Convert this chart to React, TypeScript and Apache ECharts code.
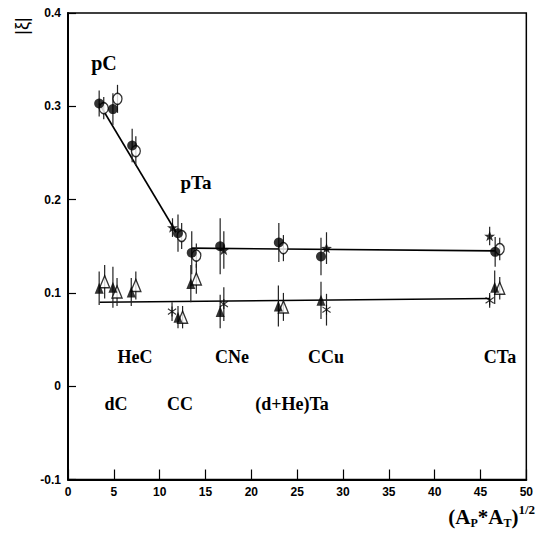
import React, { useEffect, useRef } from "react";
import * as echarts from "echarts";

// ---- data ----
const filledCircleX = [3.4, 4.9, 7.0, 12.0, 13.5, 16.6, 23.0, 27.6, 46.6];
const filledCircleY = [0.303, 0.297, 0.258, 0.164, 0.143, 0.15, 0.154, 0.139, 0.144];
const filledCircleErr = [0.014, 0.017, 0.018, 0.02, 0.023, 0.03, 0.021, 0.02, 0.016];

const openCircleX = [3.9, 5.4, 7.4, 12.4, 14.0, 23.5, 47.1];
const openCircleY = [0.298, 0.308, 0.252, 0.161, 0.14, 0.148, 0.147];
const openCircleErr = [0.012, 0.015, 0.016, 0.014, 0.013, 0.014, 0.012];

const starX = [11.4, 17.0, 28.2, 46.0];
const starY = [0.17, 0.146, 0.148, 0.161];
const starErr = [0.01, 0.02, 0.017, 0.01];

const filledTriX = [3.4, 4.9, 6.9, 12.0, 13.4, 16.6, 22.95, 27.6, 46.55];
const filledTriY = [0.105, 0.106, 0.101, 0.074, 0.11, 0.08, 0.086, 0.092, 0.106];
const filledTriErr = [0.018, 0.022, 0.015, 0.012, 0.02, 0.018, 0.022, 0.02, 0.018];

const openTriX = [4.0, 5.35, 7.4, 12.5, 14.0, 23.5, 47.1];
const openTriY = [0.112, 0.101, 0.108, 0.074, 0.115, 0.085, 0.105];
const openTriErr = [0.018, 0.015, 0.015, 0.012, 0.016, 0.015, 0.012];

const asteriskX = [11.35, 17.0, 28.2, 46.0];
const asteriskY = [0.08, 0.088, 0.082, 0.092];
const asteriskErr = [0.01, 0.018, 0.017, 0.008];

const fallLineX = [3.4, 11.8];
const fallLineY = [0.303, 0.165];
const upperLineX = [13.5, 46.6];
const upperLineY = [0.148, 0.145];
const lowerLineX = [3.45, 46.0];
const lowerLineY = [0.09, 0.094];

const xTicks = { min: 0, max: 50, interval: 5 };
const yTicks = { min: -0.1, max: 0.4, interval: 0.1 };

const reactionLabels = ["pC", "pTa", "HeC", "CNe", "CCu", "CTa", "dC", "CC", "(d+He)Ta"];

// ---- symbol paths ----
function starPath(): string {
  const pts: string[] = [];
  for (let i = 0; i < 10; i++) {
    const r = i % 2 === 0 ? 10 : 4;
    const a = -Math.PI / 2 + (i * Math.PI) / 5;
    pts.push(`${(10 + r * Math.cos(a)).toFixed(3)} ${(10 + r * Math.sin(a)).toFixed(3)}`);
  }
  return "path://M" + pts.join(" L") + " Z";
}
function asteriskPath(): string {
  const parts: string[] = [];
  const L = 10;
  const w = 1.1;
  [90, 35, -35].forEach((deg) => {
    const t = (deg * Math.PI) / 180;
    const dx = Math.cos(t), dy = Math.sin(t);
    const nx = -dy, ny = dx;
    const c = [
      [10 + L * dx + w * nx, 10 + L * dy + w * ny],
      [10 + L * dx - w * nx, 10 + L * dy - w * ny],
      [10 - L * dx - w * nx, 10 - L * dy - w * ny],
      [10 - L * dx + w * nx, 10 - L * dy + w * ny],
    ];
    parts.push("M" + c.map((p) => `${p[0].toFixed(3)} ${p[1].toFixed(3)}`).join(" L") + " Z");
  });
  return "path://" + parts.join(" ");
}

const zip = (xs: number[], ys: number[]) => xs.map((x, i) => [x, ys[i]]);
const zip3 = (xs: number[], ys: number[], es: number[]) => xs.map((x, i) => [x, ys[i], es[i]]);

export default function App() {
  const ref = useRef<HTMLDivElement>(null);
  useEffect(() => {
    if (!ref.current) return;
    const chart = echarts.init(ref.current, undefined, { renderer: "svg" });

    const errData = [
      ...zip3(filledCircleX, filledCircleY, filledCircleErr),
      ...zip3(openCircleX, openCircleY, openCircleErr),
      ...zip3(starX, starY, starErr),
      ...zip3(filledTriX, filledTriY, filledTriErr),
      ...zip3(openTriX, openTriY, openTriErr),
      ...zip3(asteriskX, asteriskY, asteriskErr),
    ];

    const tickFont = {
      fontFamily: "'Liberation Sans', Arial, sans-serif",
      fontWeight: "bold" as const,
      fontSize: 12,
      color: "#000",
    };
    const serif = "'Liberation Serif', 'DejaVu Serif', serif";

    const label = (text: string, x: number, y: number, size = 18) => ({
      type: "text",
      x,
      y,
      style: {
        text,
        fontFamily: serif,
        fontWeight: "bold",
        fontSize: size,
        fill: "#000",
        align: "center",
        verticalAlign: "middle",
      },
    });

    const lineSeries = (xs: number[], ys: number[]) => ({
      type: "line",
      data: zip(xs, ys),
      symbol: "none",
      lineStyle: { color: "#000", width: 1.6 },
      z: 2,
      silent: true,
    });

    chart.setOption({
      animation: false,
      backgroundColor: "#fff",
      grid: {
        left: 68,
        right: 4,
        top: 13,
        bottom: 56.5,
        show: true,
        borderColor: "#000",
        borderWidth: 1.5,
        backgroundColor: "transparent",
      },
      xAxis: {
        type: "value",
        min: xTicks.min,
        max: xTicks.max,
        interval: xTicks.interval,
        axisLine: { show: true, onZero: false, lineStyle: { color: "#000", width: 2 } },
        axisTick: { show: true, inside: true, length: 10, lineStyle: { color: "#000", width: 1.2 } },
        axisLabel: { ...tickFont, margin: 6 },
        splitLine: { show: false },
      },
      yAxis: {
        type: "value",
        min: yTicks.min,
        max: yTicks.max,
        interval: yTicks.interval,
        axisLine: { show: true, onZero: false, lineStyle: { color: "#000", width: 2 } },
        axisTick: { show: true, inside: true, length: 8, lineStyle: { color: "#000", width: 1.2 } },
        axisLabel: { ...tickFont, margin: 7 },
        splitLine: { show: false },
      },
      series: [
        lineSeries(fallLineX, fallLineY),
        lineSeries(upperLineX, upperLineY),
        lineSeries(lowerLineX, lowerLineY),
        {
          type: "custom",
          data: errData,
          encode: { x: 0, y: 1 },
          z: 3,
          silent: true,
          renderItem: (params: any, api: any) => {
            const x = api.value(0);
            const y = api.value(1);
            const e = api.value(2);
            const p1 = api.coord([x, y - e]);
            const p2 = api.coord([x, y + e]);
            return {
              type: "line",
              shape: { x1: p1[0], y1: p1[1], x2: p2[0], y2: p2[1] },
              style: { stroke: "#222", lineWidth: 1.2 },
            };
          },
        },
        {
          type: "scatter",
          data: zip(openCircleX, openCircleY),
          symbol: "circle",
          symbolSize: [9, 11],
          itemStyle: { color: "#fff", borderColor: "#000", borderWidth: 1.4 },
          z: 4,
        },
        {
          type: "scatter",
          data: zip(filledCircleX, filledCircleY),
          symbol: "circle",
          symbolSize: 10,
          itemStyle: { color: "#000" },
          z: 5,
        },
        {
          type: "scatter",
          data: zip(openTriX, openTriY),
          symbol: "triangle",
          symbolSize: [10, 12],
          itemStyle: { color: "#fff", borderColor: "#000", borderWidth: 1.4 },
          z: 4,
        },
        {
          type: "scatter",
          data: zip(filledTriX, filledTriY),
          symbol: "triangle",
          symbolSize: [9, 11],
          itemStyle: { color: "#000" },
          z: 5,
        },
        {
          type: "scatter",
          data: zip(starX, starY),
          symbol: starPath(),
          symbolSize: 11,
          symbolKeepAspect: true,
          itemStyle: { color: "#000" },
          z: 6,
        },
        {
          type: "scatter",
          data: zip(asteriskX, asteriskY),
          symbol: asteriskPath(),
          symbolSize: 10,
          symbolKeepAspect: true,
          itemStyle: { color: "#000" },
          z: 6,
        },
      ],
      graphic: [
        label(reactionLabels[0], 104, 63, 20),
        label(reactionLabels[1], 196, 182, 19),
        label(reactionLabels[2], 135, 357),
        label(reactionLabels[3], 232, 357),
        label(reactionLabels[4], 326, 357),
        label(reactionLabels[5], 500, 357),
        label(reactionLabels[6], 116, 404),
        label(reactionLabels[7], 180, 404),
        label(reactionLabels[8], 292, 404),
        {
          type: "text",
          x: 22,
          y: 26,
          rotation: Math.PI / 2,
          style: {
            text: "|ξ|",
            fontFamily: "'Liberation Sans', sans-serif",
            fontSize: 18,
            fill: "#000",
            align: "center",
            verticalAlign: "middle",
          },
        },
        {
          type: "text",
          x: 535,
          y: 530,
          style: {
            text: "(A{s|P}*A{s|T}){u|1/2}",
            fontFamily: serif,
            fontWeight: "bold",
            fontSize: 21,
            fill: "#000",
            align: "right",
            verticalAlign: "bottom",
            rich: {
              s: { fontFamily: serif, fontWeight: "bold", fontSize: 12, padding: [12, 0, 0, 0] },
              u: { fontFamily: serif, fontWeight: "bold", fontSize: 13, padding: [0, 0, 14, 0] },
            },
          },
        },
      ],
    });
    return () => chart.dispose();
  }, []);
  return (
    <div
      ref={ref}
      style={{ position: "absolute", left: 0, top: 0, width: 536, height: 536 }}
    />
  );
}
